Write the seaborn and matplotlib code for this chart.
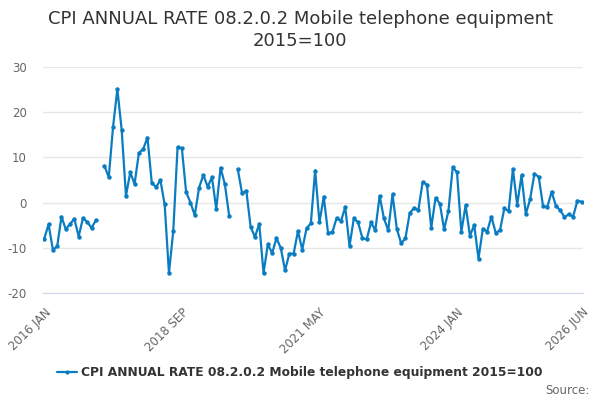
import matplotlib
matplotlib.use("Agg")
import matplotlib.pyplot as plt
from matplotlib.lines import Line2D
import numpy as np
import pandas as pd
import seaborn as sns

# Monthly series, first month and values (None = no data published)
START_MONTH = "2016-01-01"
series_name = "CPI ANNUAL RATE 08.2.0.2 Mobile telephone equipment 2015=100"
values = [
    -8.0, -4.8, -10.4, -9.7, -3.1, -5.9, -4.7, -3.6, -7.5, -3.4, -4.3, -5.6,
    -3.9, None, 8.1, 5.6, 16.8, 25.1, 16.1, 1.5, 6.7, 4.1, 11.0, 11.8,
    14.4, 4.4, 3.4, 5.0, -0.4, -15.6, -6.3, 12.2, 12.0, 2.3, 0.0, -2.8,
    3.3, 6.1, 3.5, 5.6, -1.4, 7.7, 4.1, -2.9, None, 7.4, 2.1, 2.6,
    -5.4, -7.6, -4.7, -15.6, -9.2, -11.2, -7.9, -10.0, -15.0, -11.3, -11.3, -6.3,
    -10.4, -5.7, -4.6, 7.1, -4.4, 1.3, -6.7, -6.6, -3.4, -4.1, -1.0, -9.6,
    -3.5, -4.4, -7.9, -8.1, -4.4, -6.1, 1.5, -3.5, -6.1, 1.8, -5.8, -9.0,
    -7.9, -2.3, -1.2, -1.7, 4.5, 4.0, -5.6, 1.0, -0.2, -5.9, -1.9, 7.8,
    6.7, -6.5, -0.6, -7.3, -5.0, -12.4, -5.8, -6.4, -3.1, -6.7, -6.1, -1.3,
    -1.9, 7.4, -0.5, 6.0, -2.5, 0.7, 6.4, 5.7, -0.7, -1.0, 2.4, -0.7,
    -1.7, -3.2, -2.6, -3.1, 0.4, 0.2,
]
tick_labels = ["2016 JAN", "2018 SEP", "2021 MAY", "2024 JAN", "2026 JUN"]
y_ticks = [-20, -10, 0, 10, 20, 30]

LINE_COLOR = "#0a7dc2"
AXIS_COLOR = "#ccd6eb"
TEXT_GREY = "#666666"

months = pd.date_range(START_MONTH, periods=len(values), freq="MS")
month_names = [d.strftime("%Y %b").upper() for d in months]
df = pd.DataFrame({"month": np.arange(len(values)), "value": values})
df["value"] = df["value"].astype(float)
# new segment after each gap so the line is broken there
df["segment"] = df["value"].isna().cumsum()
df = df.dropna()

sns.set_style("white")
plt.rcParams["font.family"] = ["DejaVu Sans"]
plt.rcParams["axes.unicode_minus"] = False

fig = plt.figure(figsize=(6, 4), dpi=100)
ax = fig.add_axes([0.072, 0.2675, 0.9, 0.565])

sns.lineplot(
    data=df, x="month", y="value", units="segment", estimator=None,
    color=LINE_COLOR, linewidth=1.6, marker="o", markersize=3.2,
    markeredgewidth=0, ax=ax, legend=False,
)

# spines first: changing them later would reset the tick labels
for side in ["top", "right", "left"]:
    ax.spines[side].set_visible(False)
ax.spines["bottom"].set_color(AXIS_COLOR)

n = len(values)
ax.set_xlim(-0.25, n - 1 + 0.35)
ax.set_ylim(-20, 30)
ax.set_yticks(y_ticks)
ax.yaxis.grid(True, color="#e6e6e6", linewidth=1)
ax.xaxis.grid(False)

label_pos = [month_names.index(lbl) for lbl in tick_labels]
ax.set_xticks(label_pos)
ax.set_xticks(list(range(0, n, 8)), minor=True)
ax.set_xticklabels(tick_labels)
ax.tick_params(axis="x", which="both", length=6, color=AXIS_COLOR, width=1,
               labelsize=8.5, labelcolor=TEXT_GREY, pad=3)
ax.tick_params(axis="y", length=0, labelsize=8.5, labelcolor=TEXT_GREY, pad=12)
plt.setp(ax.get_xticklabels(), rotation=45, ha="right", rotation_mode="anchor")
ax.set_xlabel("")
ax.set_ylabel("")

fig.text(0.5, 0.976, "CPI ANNUAL RATE 08.2.0.2 Mobile telephone equipment\n2015=100",
         ha="center", va="top", fontsize=13, color="#333333", linespacing=1.3)

handle = Line2D([0], [0], color=LINE_COLOR, linewidth=1.6, marker="o",
                markersize=3, markeredgewidth=0)
fig.legend([handle], [series_name], loc="center", bbox_to_anchor=(0.5, 0.068),
           frameon=False, handlelength=1.6, handletextpad=0.4,
           prop={"size": 8.8, "weight": "bold"}, labelcolor="#333333")

fig.text(0.983, 0.008, "Source:", ha="right", va="bottom", fontsize=8.5, color=TEXT_GREY)

fig.savefig("out.png", dpi=100)
